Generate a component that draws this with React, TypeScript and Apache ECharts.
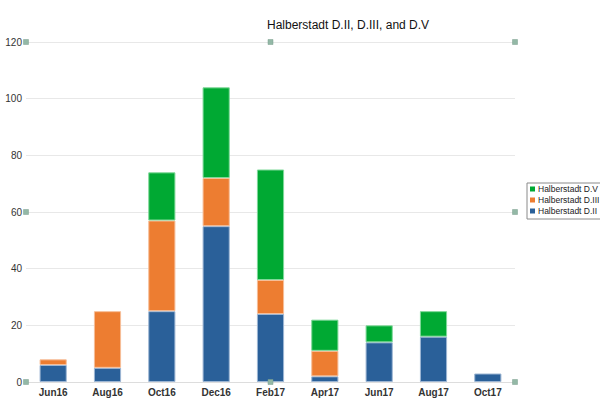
import React, { useEffect, useRef } from "react";
import * as echarts from "echarts";

const categories = ["Jun16", "Aug16", "Oct16", "Dec16", "Feb17", "Apr17", "Jun17", "Aug17", "Oct17"];
const dII = [6, 5, 25, 55, 24, 2, 14, 16, 3];
const dIII = [2, 20, 32, 17, 12, 9, null, null, null];
const dV = [null, null, 17, 32, 39, 11, 6, 9, null];
const yMin = 0;
const yMax = 120;
const yInterval = 20;
const titleText = "Halberstadt D.II, D.III, and D.V";

const FONT = "'Liberation Sans', Arial, sans-serif";

export default function App() {
  const ref = useRef<HTMLDivElement>(null);
  useEffect(() => {
    if (!ref.current) return;
    const chart = echarts.init(ref.current, null, { renderer: "svg" });
    const handleStyle = { fill: "#93b8a6", stroke: "#7a9e8c", lineWidth: 0.5 };
    const hs = 5;
    const hx = [26, 270.5, 515];
    const hy = [42, 212, 382];
    const handles: any[] = [];
    const pts: [number, number][] = [
      [hx[0], hy[0]], [hx[1], hy[0]], [hx[2], hy[0]],
      [hx[0], hy[1]], [hx[2], hy[1]],
      [hx[0], hy[2]], [hx[1], hy[2]], [hx[2], hy[2]],
    ];
    pts.forEach(([x, y]) =>
      handles.push({
        type: "rect",
        shape: { x: x - hs / 2, y: y - hs / 2, width: hs, height: hs },
        style: handleStyle,
        z: 100,
      })
    );
    const mk = (name: string, data: any[], color: string, border: string) => ({
      name,
      type: "bar",
      stack: "total",
      data,
      barWidth: "50%",
      itemStyle: { color, borderColor: border, borderWidth: 1 },
    });
    chart.setOption({
      animation: false,
      backgroundColor: "#ffffff",
      title: {
        text: titleText,
        left: 262,
        top: 14,
        textStyle: { fontFamily: FONT, fontSize: 12, fontWeight: "normal", color: "#111" },
      },
      legend: {
        orient: "vertical",
        left: 527,
        top: 183,
        data: ["Halberstadt D.V", "Halberstadt D.III", "Halberstadt D.II"],
        itemWidth: 5,
        itemHeight: 5,
        itemGap: 1,
        padding: [1, 2, 3, 3],
        borderColor: "#8a8a8a",
        borderWidth: 1,
        icon: "rect",
        itemStyle: { borderWidth: 0 },
        textStyle: { fontFamily: FONT, fontSize: 8.5, lineHeight: 10, color: "#222", padding: [0, 0, 0, -2] },
      },
      grid: { left: 26, right: 85, top: 42, bottom: 18, containLabel: false },
      xAxis: {
        type: "category",
        data: categories,
        axisTick: { show: false },
        axisLine: { lineStyle: { color: "#dddddd" } },
        axisLabel: { fontFamily: FONT, fontSize: 10, color: "#333", fontWeight: "bold", margin: 5 },
      },
      yAxis: {
        type: "value",
        min: yMin,
        max: yMax,
        interval: yInterval,
        axisLine: { show: false },
        axisTick: { show: false },
        splitLine: { lineStyle: { color: "#e8e8e8" } },
        axisLabel: { fontFamily: FONT, fontSize: 10, color: "#333", margin: 4 },
      },
      series: [
        mk("Halberstadt D.II", dII, "#2a6099", "#9db6d3"),
        mk("Halberstadt D.III", dIII, "#ed7d31", "#f6be98"),
        mk("Halberstadt D.V", dV, "#00a933", "#7fd899"),
      ],
      graphic: handles,
    });
    return () => chart.dispose();
  }, []);
  return <div ref={ref} style={{ position: "absolute", left: 0, top: 0, width: 600, height: 400 }} />;
}
